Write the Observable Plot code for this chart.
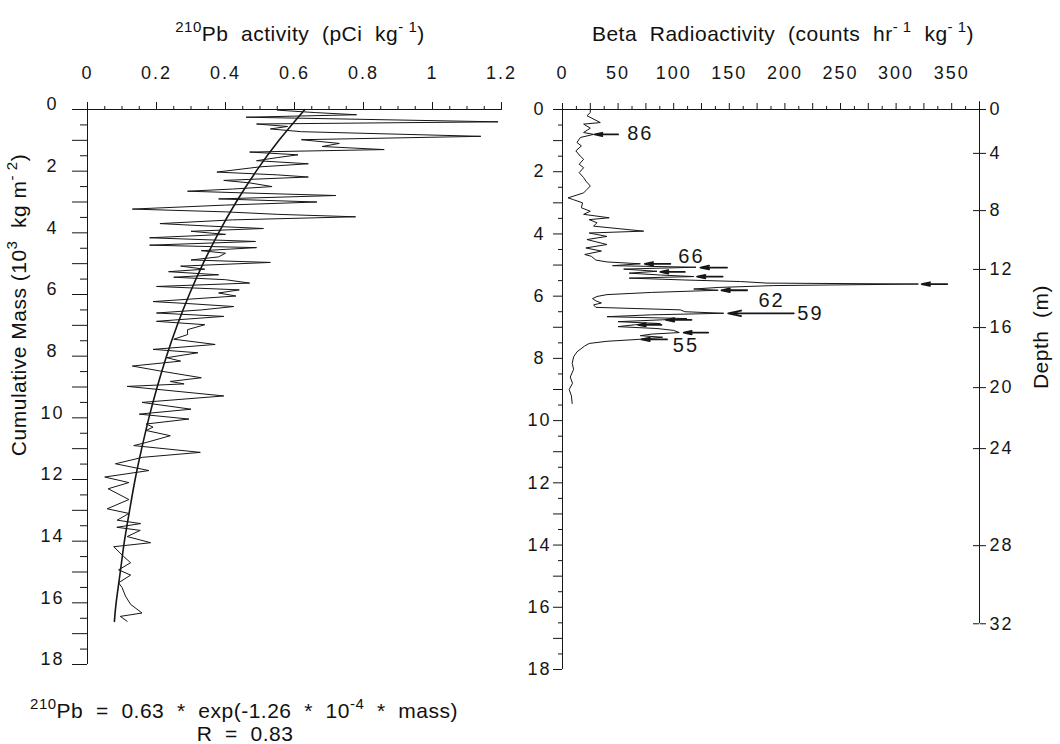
<!DOCTYPE html>
<html><head><meta charset="utf-8">
<script src="https://cdn.jsdelivr.net/npm/d3@7"></script>
<script src="https://cdn.jsdelivr.net/npm/@observablehq/plot@0.6"></script>
<style>
body{margin:0;background:#fff;}
#wrap{position:relative;width:1060px;height:744px;overflow:hidden;font-family:"Liberation Sans",Arial,sans-serif;color:#111;background:#fff;}
#wrap svg{position:absolute;top:0;}
#wrap svg text{letter-spacing:2px;}
#wrap svg text.pk{letter-spacing:0.5px;}
.t{position:absolute;white-space:pre;font-size:21px;line-height:1;transform:translate(-50%,-50%);letter-spacing:0.5px;}
.t sup{font-size:15px;vertical-align:0;position:relative;top:-9px;}
.rot{transform:translate(-50%,-50%) rotate(-90deg);}
</style></head><body><div id="wrap">
<div class="t" style="left:300px;top:33px"><sup>210</sup>Pb  activity  (pCi  kg<sup>- 1</sup>)</div>
<div class="t" style="left:783px;top:33px">Beta  Radioactivity  (counts  hr<sup>- 1</sup>  kg<sup>- 1</sup>)</div>
<div class="t rot" style="left:18px;top:305px">Cumulative Mass (10<sup>3</sup>  kg m<sup>- 2</sup>)</div>
<div class="t rot" style="left:1040px;top:337px">Depth  (m)</div>
<div class="t" style="left:244px;top:710px"><sup>210</sup>Pb  =  0.63  *  exp(-1.26  *  10<sup>-4</sup>  *  mass)</div>
<div class="t" style="left:245px;top:733px">R  =  0.83</div>
</div>
<script>
// ---- tick labels ----
const pbTickLabels = [0, 0.2, 0.4, 0.6, 0.8, 1, 1.2];
const betaTickLabels = [0, 50, 100, 150, 200, 250, 300, 350];
const massTickLabels = [0, 2, 4, 6, 8, 10, 12, 14, 16, 18];
const depthTickLabels = [0, 4, 8, 12, 16, 20, 24, 28, 32];
const depthTickMass = [0, 1.41, 3.25, 5.14, 7.01, 8.94, 10.9, 14.02, 16.53];

// ---- 210Pb profile (cumulative mass 10^3 kg m^-2, activity pCi kg^-1) ----
const pbMass = [0.02,0.10,0.17,0.25,0.40,0.47,0.55,0.63,0.72,0.87,0.98,1.10,1.20,1.30,1.38,1.47,1.56,1.66,1.76,1.86,
  2.03,2.12,2.19,2.30,2.38,2.50,2.58,2.65,2.72,2.79,2.90,3.00,3.10,3.23,3.32,3.40,3.48,3.58,3.70,3.78,3.86,3.95,
  4.05,4.16,4.28,4.40,4.48,4.58,4.66,4.78,4.88,4.96,5.08,5.18,5.26,5.36,5.44,5.52,5.63,5.74,5.85,5.95,6.05,6.23,
  6.30,6.39,6.50,6.60,6.71,6.87,6.98,7.14,7.30,7.45,7.62,7.78,7.89,8.05,8.16,8.32,8.48,8.70,8.82,8.90,8.98,9.29,
  9.50,9.72,9.88,10.04,10.20,10.30,10.41,10.58,10.80,10.90,11.12,11.28,11.49,11.71,11.92,12.10,12.30,12.65,12.95,
  13.10,13.32,13.43,13.55,13.65,13.85,14.05,14.18,14.50,14.70,14.93,15.10,15.35,15.50,15.78,16.05,16.33,16.44,16.60];
const pbValue = [0.55,0.66,0.78,0.46,1.19,0.49,0.58,0.53,0.62,1.14,0.62,0.73,0.68,0.86,0.47,0.61,0.55,0.49,0.64,0.50,
  0.375,0.55,0.64,0.395,0.47,0.535,0.42,0.29,0.50,0.72,0.38,0.665,0.40,0.13,0.40,0.55,0.777,0.42,0.21,0.35,0.51,0.30,
  0.40,0.18,0.487,0.18,0.49,0.33,0.40,0.38,0.30,0.53,0.27,0.34,0.235,0.38,0.25,0.40,0.47,0.20,0.44,0.38,0.43,0.19,
  0.30,0.424,0.33,0.20,0.395,0.20,0.34,0.29,0.29,0.25,0.37,0.19,0.32,0.23,0.27,0.13,0.21,0.33,0.24,0.28,0.115,0.395,
  0.158,0.30,0.15,0.294,0.17,0.19,0.17,0.24,0.17,0.134,0.327,0.16,0.081,0.178,0.05,0.12,0.06,0.12,0.057,
  0.12,0.086,0.154,0.085,0.153,0.115,0.183,0.076,0.105,0.125,0.09,0.125,0.09,0.10,0.11,0.125,0.158,0.095,0.115];

// ---- fitted curve as drawn ----
const fitMass = [0,1,2,3,4,5,6,7,8,9,10,11,12,13,14,15,16,16.6];
const fitValue = [0.630,0.555,0.489,0.431,0.380,0.335,0.295,0.260,0.229,0.202,0.178,0.157,0.138,0.122,0.107,0.095,0.083,0.078];

// ---- Beta radioactivity profile (counts hr^-1 kg^-1) ----
const betaMass = [0.0,0.10,0.20,0.42,0.47,0.60,0.74,0.80,0.90,1.06,1.17,1.33,1.50,1.60,1.76,1.87,2.03,2.19,2.30,2.46,
  2.57,2.68,2.84,2.90,3.00,3.16,3.27,3.37,3.48,3.54,3.64,3.75,3.91,3.97,4.08,4.18,4.34,4.45,4.55,4.66,4.72,4.84,
  4.90,4.96,5.02,5.07,5.13,5.20,5.26,5.32,5.37,5.42,5.48,5.53,5.58,5.61,5.66,5.72,5.77,5.81,5.88,5.95,6.01,6.08,
  6.15,6.22,6.28,6.36,6.44,6.50,6.55,6.60,6.66,6.72,6.76,6.82,6.88,6.92,6.98,7.04,7.10,7.17,7.22,7.27,7.32,7.39,
  7.45,7.52,7.60,7.79,7.95,8.16,8.35,8.60,8.80,9.00,9.20,9.45];
const betaValue = [25,25,22,34,19,25,19,28,16,13,17,12,16,19,15,19,15,19,21,25,
  22,19,5,10,18,17,25,19,42,24,31,28,73,24,40,22,40,21,35,20,26,30,
  40,70,45,120,55,85,60,88,118,60,110,160,184,320,190,140,118,140,80,40,31,27,
  30,35,28,30,106,110,145,80,40,112,90,50,88,65,50,85,100,105,80,70,90,68,
  40,24,20,13,10,8.7,10,7,9,6,8,8.7];

// ---- peak arrows and labels ----
const arrowMass = [0.80,4.96,5.08,5.22,5.37,5.61,5.81,6.55,6.76,6.92,7.17,7.39];
const arrowTip  = [29,74,124,88,121,323,143,149,93,68,109,71];
const arrowTail = [50,97,148,110,144,346,166,208,116,89,131,94];
const peakLabels = ["86","66","62","59","55"];
const peakLabelMass = [0.77,4.74,6.13,6.55,7.60];
const peakLabelValue = [70,116,188,223,111];

const pbData = pbMass.map((m,i)=>({m, v: pbValue[i]}));
const fitData = fitMass.map((m,i)=>({m, v: fitValue[i]}));
const betaData = betaMass.map((m,i)=>({m, v: betaValue[i]}));
const arrows = arrowMass.map((m,i)=>({m, tip: arrowTip[i], tail: arrowTail[i]}));
const peaks = peakLabels.map((t,i)=>({t, m: peakLabelMass[i], v: peakLabelValue[i]}));

const intTicks = d3.range(0, 18.01, 1);
const halfTicks = d3.range(0.5, 18, 1);
const pbMinor = d3.range(0, 1.2001, 0.05).filter(d => Math.abs(d*5 - Math.round(d*5)) > 1e-6);
const betaMajor = d3.range(0, 376, 25);
const betaMinor = d3.range(12.5, 376, 25);
const ink = "#161616";
const fs = 18;

const left = Plot.plot({
  width: 530, height: 744,
  marginLeft: 87, marginRight: 29, marginTop: 109, marginBottom: 80,
  x: {domain: [0, 1.2]},
  y: {domain: [0, 18], reverse: true},
  style: {background: "transparent", overflow: "visible", fontFamily: "Liberation Sans, Arial, sans-serif", color: ink},
  marks: [
    Plot.axisX({anchor: "top", ticks: pbMinor, tickSize: 4, tickFormat: () => "", label: null, stroke: ink}),
    Plot.axisX({anchor: "top", ticks: pbTickLabels, tickSize: 8, tickFormat: () => "", label: null, stroke: ink}),
    Plot.axisY({anchor: "left", ticks: halfTicks, tickSize: 7, tickFormat: () => "", label: null, stroke: ink}),
    Plot.axisY({anchor: "left", ticks: intTicks, tickSize: 15, tickFormat: () => "", label: null, stroke: ink}),
    Plot.ruleY([0], {x1: () => 0, x2: () => 1.2, stroke: ink}),
    Plot.ruleX([0], {y1: () => 0, y2: () => 18, stroke: ink}),
    Plot.text(pbTickLabels, {x: d => d, y: () => 0, dy: -36, text: d => String(d), fontSize: fs, fill: ink}),
    Plot.text(massTickLabels, {x: () => 0, y: d => d, dx: -35, dy: -5, text: d => String(d), fontSize: fs, fill: ink}),
    Plot.line(pbData, {x: "v", y: "m", stroke: ink, strokeWidth: 1}),
    Plot.line(fitData, {x: "v", y: "m", stroke: ink, strokeWidth: 1.6, curve: "natural"})
  ]
});
left.style.left = "0px";

const right = Plot.plot({
  width: 530, height: 744,
  marginLeft: 32, marginRight: 81, marginTop: 109, marginBottom: 75,
  x: {domain: [0, 375]},
  y: {domain: [0, 18], reverse: true},
  style: {background: "transparent", overflow: "visible", fontFamily: "Liberation Sans, Arial, sans-serif", color: ink},
  marks: [
    Plot.axisX({anchor: "top", ticks: betaMinor, tickSize: 4, tickFormat: () => "", label: null, stroke: ink}),
    Plot.axisX({anchor: "top", ticks: betaMajor, tickSize: 7, tickFormat: () => "", label: null, stroke: ink}),
    Plot.axisY({anchor: "left", ticks: halfTicks, tickSize: 4, tickFormat: () => "", label: null, stroke: ink}),
    Plot.axisY({anchor: "left", ticks: intTicks, tickSize: 9, tickFormat: () => "", label: null, stroke: ink}),
    Plot.axisY({anchor: "right", ticks: depthTickMass, tickSize: 6, tickFormat: () => "", label: null, stroke: ink}),
    Plot.ruleY(depthTickMass, {x1: () => 369.6, x2: () => 375, stroke: ink}),
    Plot.ruleY([0], {x1: () => 0, x2: () => 375, stroke: ink}),
    Plot.ruleX([0], {y1: () => 0, y2: () => 18, stroke: ink}),
    Plot.ruleX([375], {y1: () => -0.25, y2: () => 16.53, stroke: ink}),
    Plot.text(betaTickLabels, {x: d => d, y: () => 0, dy: -36, text: d => String(d), fontSize: fs, fill: ink}),
    Plot.text(massTickLabels, {x: () => 0, y: d => d, dx: -23, text: d => String(d), fontSize: fs, fill: ink}),
    Plot.text(depthTickLabels, {x: () => 375, y: d => depthTickMass[depthTickLabels.indexOf(d)], dx: 10, textAnchor: "start", text: d => String(d), fontSize: fs, fill: ink}),
    Plot.line(betaData, {x: "v", y: "m", stroke: ink, strokeWidth: 1}),
    Plot.arrow(arrows, {x1: "tail", y1: "m", x2: "tip", y2: "m", stroke: ink, strokeWidth: 1.8, headLength: 11, headAngle: 24}),
    Plot.text(peaks, {x: "v", y: "m", text: "t", fontSize: 20, fill: ink, className: "pk"})
  ]
});
right.style.left = "530px";

const wrap = document.getElementById("wrap");
wrap.insertBefore(right, wrap.firstChild);
wrap.insertBefore(left, wrap.firstChild);
</script>
</body></html>
